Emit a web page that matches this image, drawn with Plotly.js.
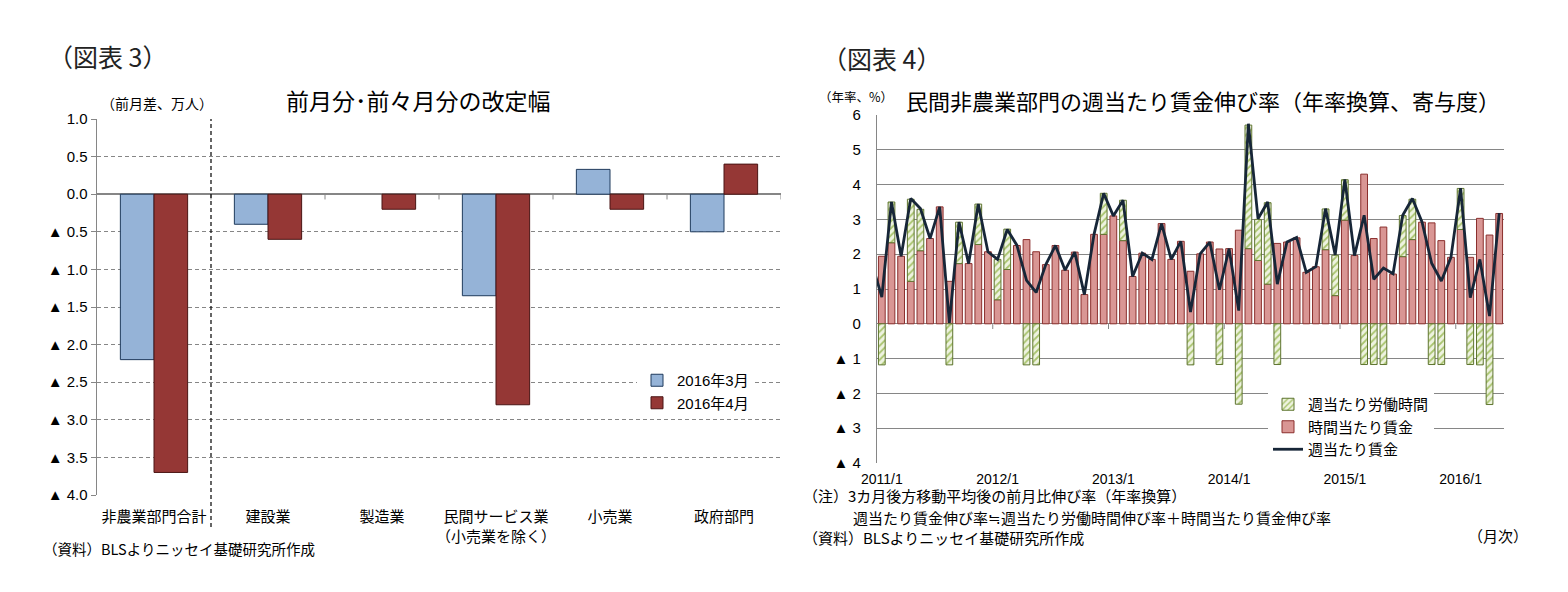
<!DOCTYPE html>
<html><head><meta charset="utf-8">
<script src="https://cdn.plot.ly/plotly-3.0.1.min.js"></script>
<style>
body{margin:0;background:#fff;width:1568px;height:592px;overflow:hidden;position:relative}
#left{position:absolute;left:0;top:0;width:784px;height:592px}
#right{position:absolute;left:784px;top:0;width:784px;height:592px}
</style>
</head><body>
<div id="left"></div><div id="right"></div>
<script>
// ===== 図表3 data =====
const sectors = ['非農業部門合計','建設業','製造業','民間サービス業<br>（小売業を除く）','小売業','政府部門'];
const rev2016Mar = [-2.2, -0.4, null, -1.35, 0.33, -0.5];
const rev2016Apr = [-3.7, -0.6, -0.2, -2.8, -0.2, 0.4];
const leftTickVals = [1, 0.5, 0, -0.5, -1, -1.5, -2, -2.5, -3, -3.5, -4];
const leftTickText = ['1.0','0.5','0.0','▲ 0.5','▲ 1.0','▲ 1.5','▲ 2.0','▲ 2.5','▲ 3.0','▲ 3.5','▲ 4.0'];

// ===== 図表4 data (2010/12 - 2016/5) =====
const months = [];
for (let y = 2010; y <= 2016; y++) for (let m = 1; m <= 12; m++) {
  if ((y === 2010 && m < 12) || (y === 2016 && m > 5)) continue;
  months.push(y + '/' + m);
}
const hourlyWage = [null,
  1.94,2.33,1.94,1.22,2.10,2.45,3.36,1.22,1.73,1.73,2.28,2.07,
  0.69,1.56,2.25,2.42,2.07,1.70,2.25,1.54,2.06,0.84,2.57,2.57,
  3.10,2.39,1.36,2.03,1.85,2.88,1.85,2.37,1.51,2.01,2.35,2.15,
  2.16,2.69,2.16,1.82,1.14,2.31,2.35,2.47,1.48,1.64,2.13,0.81,
  2.98,1.96,4.30,2.45,2.78,1.43,1.93,2.42,2.92,2.90,2.39,1.91,
  2.71,1.91,3.03,2.55,3.17];
const weeklyHours = [null,
  -1.18,1.17,null,2.36,1.19,null,null,-1.18,1.19,null,1.16,null,
  1.16,1.16,null,-1.18,-1.18,null,null,null,null,null,null,1.18,
  null,1.16,null,null,null,null,null,null,-1.18,null,null,-1.17,
  null,-2.31,3.55,1.18,2.34,-1.17,null,null,null,null,1.17,1.16,
  1.16,null,-1.17,-1.17,-1.17,null,1.18,1.16,null,-1.17,-1.17,null,
  1.18,-1.17,-1.18,-2.32,null];
const weeklyWage = [1.71,
  0.77,3.50,1.94,3.60,3.31,2.45,3.36,0.03,2.92,1.73,3.44,2.07,
  1.85,2.71,2.26,1.25,0.90,1.70,2.25,1.54,2.06,0.84,2.57,3.75,
  3.10,3.55,1.36,2.03,1.85,2.88,1.85,2.37,0.34,2.01,2.35,0.98,
  2.16,0.38,5.75,3.02,3.50,1.14,2.35,2.48,1.48,1.64,3.31,1.98,
  4.15,1.96,3.12,1.28,1.60,1.44,3.12,3.60,2.93,1.74,1.23,1.91,
  3.90,0.75,1.85,0.22,3.18];
const yearTicks = ['2011/1','2012/1','2013/1','2014/1','2015/1','2016/1'];
const rightTickVals = [6,5,4,3,2,1,0,-1,-2,-3,-4];
const rightTickText = ['6','5','4','3','2','1','0','▲ 1','▲ 2','▲ 3','▲ 4'];

const W = 784, H = 592;
const px = x => x / W, py = y => 1 - y / H;
const JP = 'Noto Sans CJK JP';
const NUM = 'Liberation Sans, Noto Sans CJK JP';
const GRAY = '#868686';

// ---------- Left chart ----------
const leftTraces = [
  {type:'bar', x:sectors, y:rev2016Mar, name:'2016年3月',
   marker:{color:'#95B3D7', line:{color:'#1F3A5C', width:1}}},
  {type:'bar', x:sectors, y:rev2016Apr, name:'2016年4月',
   marker:{color:'#953735', line:{color:'#4A1514', width:1}}}
];
const leftShapes = [];
for (let k = 0; k < sectors.length; k++) {
  leftShapes.push({type:'line', xref:'x', yref:'y', x0:k+0.5, x1:k+0.5, y0:0, y1:-0.07,
    line:{color:GRAY, width:1}});
}
leftShapes.push({type:'line', xref:'x', yref:'paper', x0:0.5, x1:0.5, y0:py(527), y1:py(119),
  line:{color:'#000', width:1.2, dash:'4px,3px'}});

const leftLayout = {
  width:W, height:H, margin:{l:0,r:0,t:0,b:0},
  paper_bgcolor:'#fff', plot_bgcolor:'#fff',
  font:{family:JP, color:'#000'},
  barmode:'group', bargap:0.41, bargroupgap:0,
  showlegend:true,
  legend:{x:px(637), y:py(364), xanchor:'left', yanchor:'top', bgcolor:'#fff',
    font:{family:NUM, size:15, color:'#000'}, tracegroupgap:0, itemwidth:30},
  xaxis:{domain:[px(97), px(781)], range:[-0.5, 5.5], type:'category',
    showgrid:false, zeroline:false, showline:false, ticks:'',
    tickfont:{family:JP, size:15, color:'#000'}, ticklabelstandoff:11, fixedrange:true},
  yaxis:{domain:[py(495), py(119)], range:[-4, 1], tickvals:leftTickVals, ticktext:leftTickText,
    showgrid:true, gridcolor:GRAY, griddash:'4px,3px', gridwidth:1,
    zeroline:true, zerolinecolor:GRAY, zerolinewidth:1.5,
    showline:true, linecolor:GRAY, linewidth:1.5,
    ticks:'outside', ticklen:5, tickcolor:GRAY,
    tickfont:{family:NUM, size:15, color:'#000'}, fixedrange:true},
  shapes:leftShapes,
  annotations:[
    {xref:'paper', yref:'paper', x:px(46), y:py(56), xanchor:'left', yanchor:'middle', showarrow:false,
     text:'（図表 3）', font:{family:JP, size:25, color:'#222'}},
    {xref:'paper', yref:'paper', x:px(418), y:py(100), xanchor:'center', yanchor:'middle', showarrow:false,
     text:'前月分･前々月分の改定幅', font:{family:JP, size:23, color:'#000'}},
    {xref:'paper', yref:'paper', x:px(157), y:py(103), xanchor:'center', yanchor:'middle', showarrow:false,
     text:'（前月差、万人）', font:{family:JP, size:14, color:'#000'}},
    {xref:'paper', yref:'paper', x:px(41), y:py(548), xanchor:'left', yanchor:'middle', showarrow:false,
     text:'（資料）BLSよりニッセイ基礎研究所作成', font:{family:JP, size:14.5, color:'#000'}}
  ]
};
Plotly.newPlot('left', leftTraces, leftLayout, {staticPlot:true});

// ---------- Right chart ----------
const rightTraces = [
  {type:'bar', x:months, y:hourlyWage, name:'時間当たり賃金', legendrank:2,
   marker:{color:'#D99694', line:{color:'#8B2F2D', width:1}}},
  {type:'bar', x:months, y:weeklyHours, name:'週当たり労働時間', legendrank:1,
   marker:{color:'#E6EDD2', line:{color:'#5F7530', width:1},
     pattern:{shape:'/', bgcolor:'#EEF3E0', fgcolor:'#A9C46E', size:5, solidity:0.35}}},
  {type:'scatter', mode:'lines', x:months, y:weeklyWage, name:'週当たり賃金', legendrank:3,
   line:{color:'#172638', width:2.8}}
];
const rightShapes = [];
for (const t of yearTicks.slice(1)) {
  const xi = months.indexOf(t) - 0.5;
  rightShapes.push({type:'line', xref:'x', yref:'y', x0:xi, x1:xi, y0:0, y1:-0.15,
    line:{color:GRAY, width:1}});
}
const rightLayout = {
  width:W, height:H, margin:{l:0,r:0,t:0,b:0},
  paper_bgcolor:'#fff', plot_bgcolor:'#fff',
  font:{family:JP, color:'#000'},
  barmode:'relative', bargap:0.3,
  showlegend:true,
  legend:{x:px(1268-784), y:py(388), xanchor:'left', yanchor:'top', bgcolor:'#fff',
    font:{family:JP, size:15, color:'#000'}, tracegroupgap:0, itemwidth:30},
  xaxis:{domain:[px(877-784), px(1504-784)], range:[0.5, months.length-0.5], type:'category',
    tickvals:yearTicks, ticktext:yearTicks,
    showgrid:false, zeroline:false, showline:false, ticks:'',
    tickfont:{family:NUM, size:14, color:'#000'}, ticklabelstandoff:6, fixedrange:true},
  yaxis:{domain:[py(463), py(115)], range:[-4, 6], tickvals:rightTickVals, ticktext:rightTickText,
    showgrid:true, gridcolor:GRAY, gridwidth:1,
    zeroline:true, zerolinecolor:GRAY, zerolinewidth:1.2,
    showline:true, linecolor:GRAY, linewidth:1.2, ticks:'',
    ticklabelstandoff:12,
    tickfont:{family:NUM, size:15, color:'#000'}, fixedrange:true},
  shapes:rightShapes,
  annotations:[
    {xref:'paper', yref:'paper', x:px(820-784), y:py(58), xanchor:'left', yanchor:'middle', showarrow:false,
     text:'（図表 4）', font:{family:JP, size:25, color:'#222'}},
    {xref:'paper', yref:'paper', x:px(1203-784), y:py(100), xanchor:'center', yanchor:'middle', showarrow:false,
     text:'民間非農業部門の週当たり賃金伸び率（年率換算、寄与度）', font:{family:JP, size:22, color:'#000'}},
    {xref:'paper', yref:'paper', x:px(856-784), y:py(97), xanchor:'center', yanchor:'middle', showarrow:false,
     text:'（年率、%）', font:{family:JP, size:12.5, color:'#000'}},
    {xref:'paper', yref:'paper', x:px(801-784), y:py(495), xanchor:'left', yanchor:'middle', showarrow:false,
     text:'（注）3カ月後方移動平均後の前月比伸び率（年率換算）', font:{family:JP, size:15, color:'#000'}},
    {xref:'paper', yref:'paper', x:px(851-784), y:py(517), xanchor:'left', yanchor:'middle', showarrow:false,
     text:'週当たり賃金伸び率≒週当たり労働時間伸び率＋時間当たり賃金伸び率', font:{family:JP, size:15, color:'#000'}},
    {xref:'paper', yref:'paper', x:px(801-784), y:py(537), xanchor:'left', yanchor:'middle', showarrow:false,
     text:'（資料）BLSよりニッセイ基礎研究所作成', font:{family:JP, size:15, color:'#000'}},
    {xref:'paper', yref:'paper', x:px(1530-784), y:py(535), xanchor:'right', yanchor:'middle', showarrow:false,
     text:'（月次）', font:{family:JP, size:15, color:'#000'}}
  ]
};
Plotly.newPlot('right', rightTraces, rightLayout, {staticPlot:true});
</script>
</body></html>
